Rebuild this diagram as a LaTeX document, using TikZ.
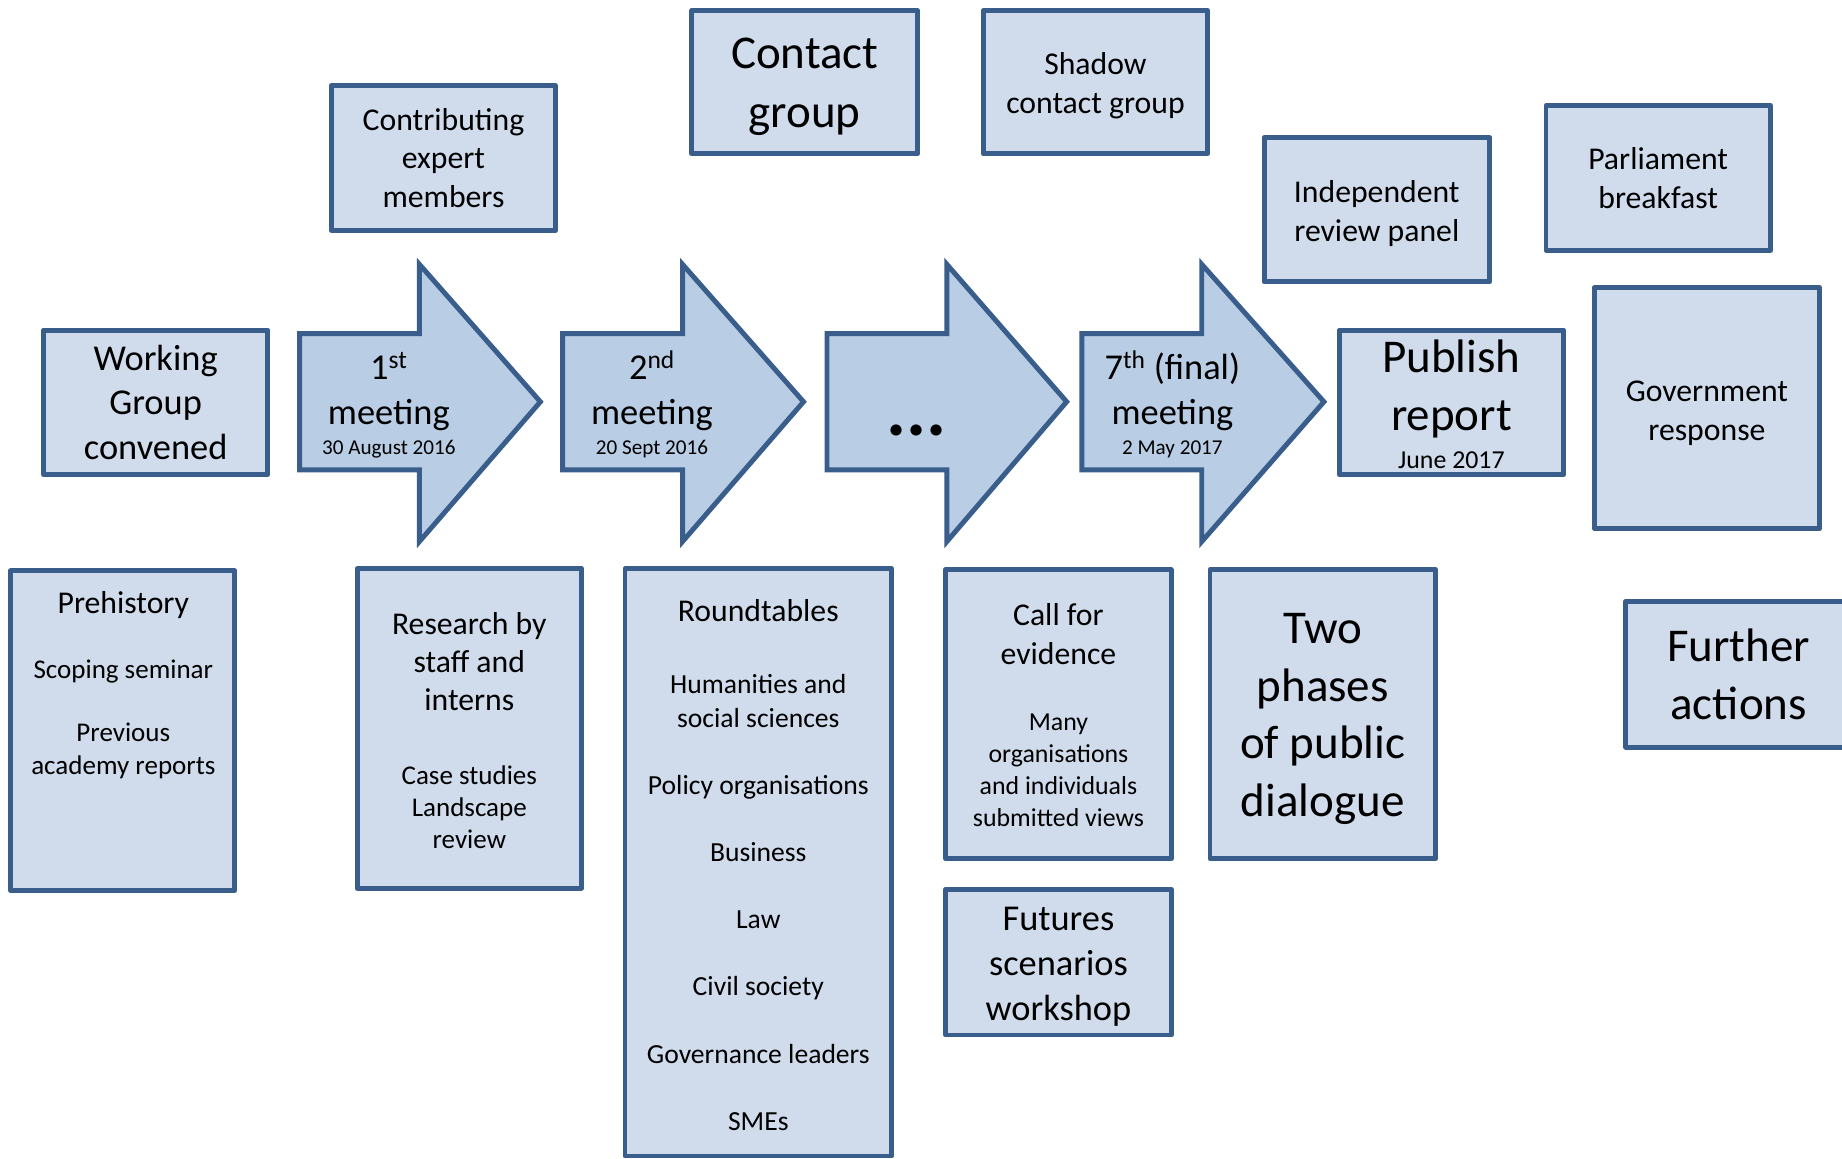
\documentclass[tikz,border=0pt]{standalone}
\usepackage{fontspec}
\setmainfont{Carlito}
\definecolor{bord}{HTML}{3A5E8C}
\definecolor{boxfill}{HTML}{D0DCEC}
\definecolor{arrfill}{HTML}{B9CDE5}
\newcommand\myfs[2]{\fontsize{#1}{#2}\selectfont}
\tikzset{
  box/.style={draw=bord, fill=boxfill, line width=4.2pt, line join=round, inner sep=0pt, align=center, text=black},
  arr/.style={draw=bord, fill=arrfill, line width=4.2pt, line join=miter},
  lbl/.style={align=center, inner sep=0pt, text=black},
}
\begin{document}
\begin{tikzpicture}[x=1pt,y=-1pt]
\useasboundingbox (0,0) rectangle (1568,986);
\clip (0,0) rectangle (1568,986);
\fill[white] (0,0) rectangle (1568,986);

% ---------- arrows ----------
\draw[arr] (255,284) -- (357,284) -- (357,225) -- (460,342) -- (357,461) -- (357,400) -- (255,400) -- cycle;
\draw[arr] (479,284) -- (581,284) -- (581,225) -- (684,342) -- (581,461) -- (581,400) -- (479,400) -- cycle;
\draw[arr] (704,284) -- (806,284) -- (806,225) -- (908,342) -- (806,461) -- (806,400) -- (704,400) -- cycle;
\draw[arr] (921,284) -- (1023,284) -- (1023,225) -- (1127,342) -- (1023,461) -- (1023,400) -- (921,400) -- cycle;

\node[lbl, anchor=base, font=\myfs{31}{38}] (a1a) at (331,323) {1\textsuperscript{st}};
\node[lbl, anchor=base, font=\myfs{31}{38}] (a1b) at (331,361) {meeting};
\node[lbl, anchor=base, font=\myfs{18}{22}] (a1c) at (331,387) {30 August 2016};

\node[lbl, anchor=base, font=\myfs{31}{38}] (a2a) at (555,323) {2\textsuperscript{nd}};
\node[lbl, anchor=base, font=\myfs{31}{38}] (a2b) at (555,361) {meeting};
\node[lbl, anchor=base, font=\myfs{18}{22}] (a2c) at (555,387) {20 Sept 2016};

\node[lbl, anchor=base, font=\bfseries\myfs{64}{70}] (a3a) at (780,371) {...};

\node[lbl, anchor=base, font=\myfs{31}{38}] (a4a) at (998,323) {7\textsuperscript{th} (final)};
\node[lbl, anchor=base, font=\myfs{31}{38}] (a4b) at (998,361) {meeting};
\node[lbl, anchor=base, font=\myfs{18}{22}] (a4c) at (998,387) {2 May 2017};

% ---------- top row boxes ----------
\node[box, minimum width=191, minimum height=123, font=\myfs{31}{38}] (wg) at (132.5,342.5) {Working\\Group\\convened};
\node[box, minimum width=191, minimum height=123, font=\myfs{27}{33}] (cem) at (377.5,134.5) {Contributing\\expert\\members};

\node[box, minimum width=192, minimum height=122] (cg) at (685,70) {};
\node[lbl, font=\myfs{40}{50}] (cgt) at (685,74) {Contact\\group};

\node[box, minimum width=191, minimum height=122] (scg) at (932.5,70) {};
\node[lbl, font=\myfs{27}{33}] (scgt) at (932.5,73) {Shadow\\contact group};

\node[box, minimum width=192, minimum height=123] (irp) at (1172,178.5) {};
\node[lbl, font=\myfs{27}{33}] (irpt) at (1172,181.5) {Independent\\review panel};

\node[box, minimum width=191, minimum height=123, font=\myfs{27}{33}] (pb) at (1411.5,151.5) {Parliament\\breakfast};

\node[box, minimum width=191, minimum height=123] (pr) at (1235.5,342.5) {};
\node[lbl, font=\myfs{40}{49}] (prt) at (1235.5,331) {Publish\\report};
\node[lbl, anchor=base, font=\myfs{22}{26}] (prd) at (1235.5,399) {June 2017};

\node[box, minimum width=192, minimum height=205] (gr) at (1453,347.5) {};
\node[lbl, font=\myfs{27}{33}] (grt) at (1453,351.5) {Government\\response};

% ---------- lower boxes ----------
\node[box, minimum width=191, minimum height=272] (ph) at (104.5,622) {};
\node[lbl, font=\myfs{27}{33}] (pht) at (105,515) {Prehistory};
\node[lbl, font=\myfs{23}{28}] (phs) at (105,572) {Scoping seminar};
\node[lbl, font=\myfs{23}{28}] (php) at (105,639) {Previous\\academy reports};

\node[box, minimum width=191, minimum height=272] (rs) at (399.5,620) {};
\node[lbl, font=\myfs{27}{32.5}] (rst) at (399.5,563) {Research by\\staff and\\interns};
\node[lbl, font=\myfs{23}{27.5}] (rsc) at (399.5,687) {Case studies\\Landscape\\review};

\node[box, minimum width=227, minimum height=500] (rt) at (645.5,734) {};
\node[lbl, font=\myfs{27}{33}] (rtt) at (645.5,520) {Roundtables};
\node[lbl, font=\myfs{23.5}{29}] (rth) at (645.5,597) {Humanities and\\social sciences};
\node[lbl, font=\myfs{23.5}{57.2}] (rtl) at (645.5,811) {Policy organisations\\Business\\Law\\Civil society\\Governance leaders\\SMEs};

\node[box, minimum width=192, minimum height=246] (ce) at (901,608) {};
\node[lbl, font=\myfs{27}{33}] (cet) at (901,540) {Call for\\evidence};
\node[lbl, font=\myfs{22}{27.3}] (cem2) at (901,656) {Many\\organisations\\and individuals\\submitted views};

\node[box, minimum width=192, minimum height=124] (fs) at (901,819) {};
\node[lbl, font=\myfs{31}{38}] (fst) at (901,823) {Futures\\scenarios\\workshop};

\node[box, minimum width=192, minimum height=246] (tp) at (1126,608) {};
\node[lbl, font=\myfs{40}{49}] (tpt) at (1126,612) {Two\\phases\\of public\\dialogue};

\node[box, minimum width=192, minimum height=124, font=\myfs{40}{49}] (fa) at (1480,574) {Further\\actions};
\end{tikzpicture}
\end{document}
